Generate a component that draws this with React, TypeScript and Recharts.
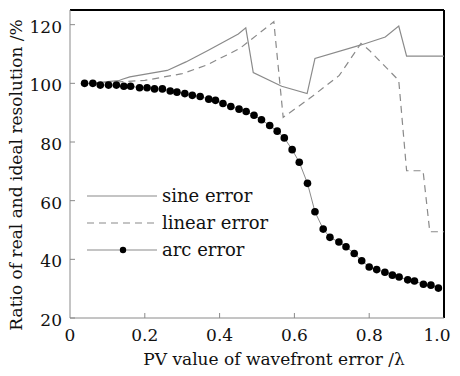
import React from "react";
import { LineChart, Line, XAxis, YAxis, Legend, ReferenceLine } from "recharts";

// arc error (dotted series)
const arcX = [
  0.039, 0.061, 0.081, 0.103, 0.124, 0.144, 0.162, 0.186, 0.206, 0.226, 0.247, 0.268,
  0.286, 0.307, 0.327, 0.348, 0.371, 0.389, 0.409, 0.43, 0.452, 0.471, 0.492, 0.512,
  0.534, 0.554, 0.573, 0.594, 0.613, 0.635, 0.655, 0.677, 0.695, 0.719, 0.738, 0.76,
  0.78, 0.8, 0.82, 0.842, 0.862, 0.88, 0.903, 0.921, 0.945, 0.965, 0.985,
];
const arcY = [
  100, 100, 99.4, 99.4, 99.4, 99.0, 99.0, 98.5, 98.5, 98.1, 98.1, 97.4,
  97.0, 96.5, 95.9, 95.5, 94.6, 94.2, 93.1, 92.1, 91.2, 90.4, 89.1, 87.6,
  85.6, 83.7, 81.4, 77.4, 73.1, 65.9, 56.2, 50.3, 47.5, 45.9, 44.3, 42.0,
  39.5, 37.4, 36.5, 35.6, 34.6, 34.0, 33.0, 32.6, 31.5, 31.2, 30.2,
];

// sine error
const sineX = [0.06, 0.1, 0.13, 0.14, 0.16, 0.26, 0.31, 0.37, 0.45, 0.47, 0.49, 0.566, 0.634, 0.655, 0.776, 0.843, 0.879, 0.9, 1.0];
const sineY = [100, 100.6, 100.9, 101.4, 102.2, 104.4, 107.3, 111.3, 116.8, 118.9, 103.7, 99.0, 96.5, 108.5, 113.0, 115.8, 119.5, 109.3, 109.3];

// linear error
const linearX = [0.06, 0.2, 0.3, 0.365, 0.454, 0.545, 0.57, 0.64, 0.72, 0.778, 0.8, 0.879, 0.9, 0.944, 0.962, 1.0];
const linearY = [100, 101, 103.3, 106.2, 111.9, 121, 88.4, 94.8, 102.7, 113.6, 111.3, 101, 70.2, 70.2, 49.4, 49.4];

const xTicks = [0, 0.2, 0.4, 0.6, 0.8, 1.0];
const yTicks = [20, 40, 60, 80, 100, 120];
const yDomain = [20, 125];
const legendOrder = ["sine error", "linear error", "arc error"];

const toPoints = (xs: number[], ys: number[]) => xs.map((x, i) => ({ x, y: ys[i] }));

const FONT = "'DejaVu Serif', serif";
const GRAY = "#8a8a8a";
const INK = "#111";

const seriesStyle: Record<string, { dash?: string; dot?: boolean }> = {
  "sine error": {},
  "linear error": { dash: "7 5" },
  "arc error": { dot: true },
};

const YTick = (props: any) => {
  const { x, y, payload } = props;
  return (
    <g>
      <line x1={x + 8} x2={x + 13} y1={y} y2={y} stroke={GRAY} />
      <text x={x} y={y} dy={8} textAnchor="end" fontFamily={FONT} fontSize={17} fill={INK}>
        {payload.value}
      </text>
    </g>
  );
};

const XTick = (props: any) => {
  const { x, y, payload } = props;
  const v = payload.value;
  const label = v === 0 ? "0" : v.toFixed(1);
  return (
    <g>
      {v !== 0 && v !== 1 && <line x1={x} x2={x} y1={y - 6} y2={y - 11} stroke={GRAY} />}
      <text x={v === 1 ? x - 7 : x} y={y} dy={17} textAnchor="middle" fontFamily={FONT} fontSize={17} fill={INK}>
        {label}
      </text>
    </g>
  );
};

const XTitle = () => (
  <text x={274} y={365} textAnchor="middle" fontFamily={FONT} fontSize={17} fill={INK}>
    PV value of wavefront error /λ
  </text>
);

const YTitle = () => (
  <text x={22} y={175} transform="rotate(-90 22 175)" textAnchor="middle" fontFamily={FONT} fontSize={17} fill={INK}>
    Ratio of real and ideal resolution /%
  </text>
);

const LegendBox = (props: any) => {
  const payload = [...(props.payload || [])].sort(
    (a: any, b: any) => legendOrder.indexOf(a.value) - legendOrder.indexOf(b.value)
  );
  return (
    <div>
      {payload.map((entry: any) => {
        const s = seriesStyle[entry.value] || {};
        return (
          <div key={entry.value} style={{ display: "flex", alignItems: "center", height: 26.7 }}>
            <svg width={70} height={10}>
              <line x1={0} y1={5} x2={70} y2={5} stroke={GRAY} strokeWidth={1.2} strokeDasharray={s.dash} />
              {s.dot && <circle cx={36} cy={5} r={3.2} fill="#000" />}
            </svg>
            <span style={{ marginLeft: 5, fontFamily: FONT, fontSize: 18, color: INK, lineHeight: 1 }}>
              {entry.value}
            </span>
          </div>
        );
      })}
    </div>
  );
};

export default function App() {
  return (
    <div style={{ position: "relative", marginLeft: -8, marginTop: -8, width: 460, height: 376, background: "#fff" }}>
      <LineChart width={460} height={376} margin={{ top: 10, right: 16, bottom: 0, left: 0 }}>
        <XAxis
          dataKey="x"
          type="number"
          domain={[0, 1]}
          ticks={xTicks}
          height={58}
          tickLine={false}
          tickSize={6}
          tickMargin={0}
          tick={<XTick />}
          axisLine={{ stroke: GRAY }}
          interval={0}
          label={<XTitle />}
        />
        <YAxis
          type="number"
          domain={yDomain}
          ticks={yTicks}
          width={70}
          tickLine={false}
          tickSize={8}
          tickMargin={0}
          tick={<YTick />}
          axisLine={{ stroke: GRAY }}
          interval={0}
          label={<YTitle />}
        />
        {/* top and right edges of the plot frame */}
        <ReferenceLine y={yDomain[1]} stroke="#000" strokeWidth={2} ifOverflow="visible" />
        <ReferenceLine x={1} stroke="#000" strokeWidth={2} ifOverflow="visible" />
        <Legend
          layout="vertical"
          align="center"
          verticalAlign="middle"
          content={<LegendBox />}
          wrapperStyle={{ position: "absolute", left: 87, top: 183, width: "auto" }}
        />
        <Line
          name="sine error"
          data={toPoints(sineX, sineY)}
          dataKey="y"
          type="linear"
          stroke={GRAY}
          strokeWidth={1.2}
          dot={false}
          isAnimationActive={false}
        />
        <Line
          name="linear error"
          data={toPoints(linearX, linearY)}
          dataKey="y"
          type="linear"
          stroke={GRAY}
          strokeWidth={1.2}
          strokeDasharray="7 5"
          dot={false}
          isAnimationActive={false}
        />
        <Line
          name="arc error"
          data={toPoints(arcX, arcY)}
          dataKey="y"
          type="linear"
          stroke={GRAY}
          strokeWidth={1}
          dot={{ r: 3.8, fill: "#000", stroke: "none" }}
          isAnimationActive={false}
        />
      </LineChart>
    </div>
  );
}
